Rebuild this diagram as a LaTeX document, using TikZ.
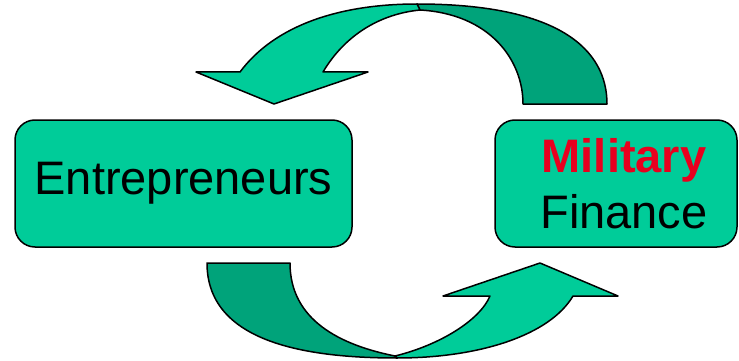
\documentclass[tikz,border=0pt]{standalone}
\usepackage{fontspec}
\setmainfont{Liberation Sans}
\usetikzlibrary{positioning}
\definecolor{tealLight}{HTML}{00CC99}
\definecolor{tealDark}{HTML}{00A37A}
\definecolor{militaryRed}{HTML}{E8001E}

\begin{document}
\begin{tikzpicture}[x=1pt, y=-1pt, line width=1.5pt, line join=round,
    box/.style={draw=black, rounded corners=20pt, fill=tealLight, align=center,
                minimum height=127pt, inner sep=0pt,
                font=\fontsize{47}{56}\selectfont}]
    \useasboundingbox (0,0) rectangle (739,361);
    % the two boxes
    \node[box, minimum width=337pt] (entre) at (183.5,183.5) {Entrepreneurs};
    \node[box, minimum width=242pt] (milfin) at (616,183.5)
         {\hspace*{16pt}\textcolor{militaryRed}{\bfseries Military}\\\hspace*{16pt}Finance};
    % upper arrow: tail then head
    \filldraw[fill=tealDark] (417,4) .. controls (560,4) and (607,50) .. (607,104)
        -- (523,104) .. controls (523,60) and (490,14) .. (420,10) -- cycle;
    \filldraw[fill=tealLight] (417,4) .. controls (340,4) and (275,25) .. (240,72)
        -- (196,72) -- (274,104) -- (368,72) -- (323,72)
        .. controls (345,35) and (380,14) .. (420,10) -- cycle;
    % lower arrow: tail then head
    \filldraw[fill=tealDark] (207,263) -- (290,263)
        .. controls (290,320) and (340,345) .. (395,356) -- (397,358)
        .. controls (300,358) and (207,340) .. (207,263) -- cycle;
    \filldraw[fill=tealLight] (397,358) .. controls (480,358) and (550,335) .. (573,296)
        -- (618,296) -- (540,263) -- (443,296) -- (490,296)
        .. controls (480,320) and (440,345) .. (395,356) -- cycle;
\end{tikzpicture}
\end{document}
